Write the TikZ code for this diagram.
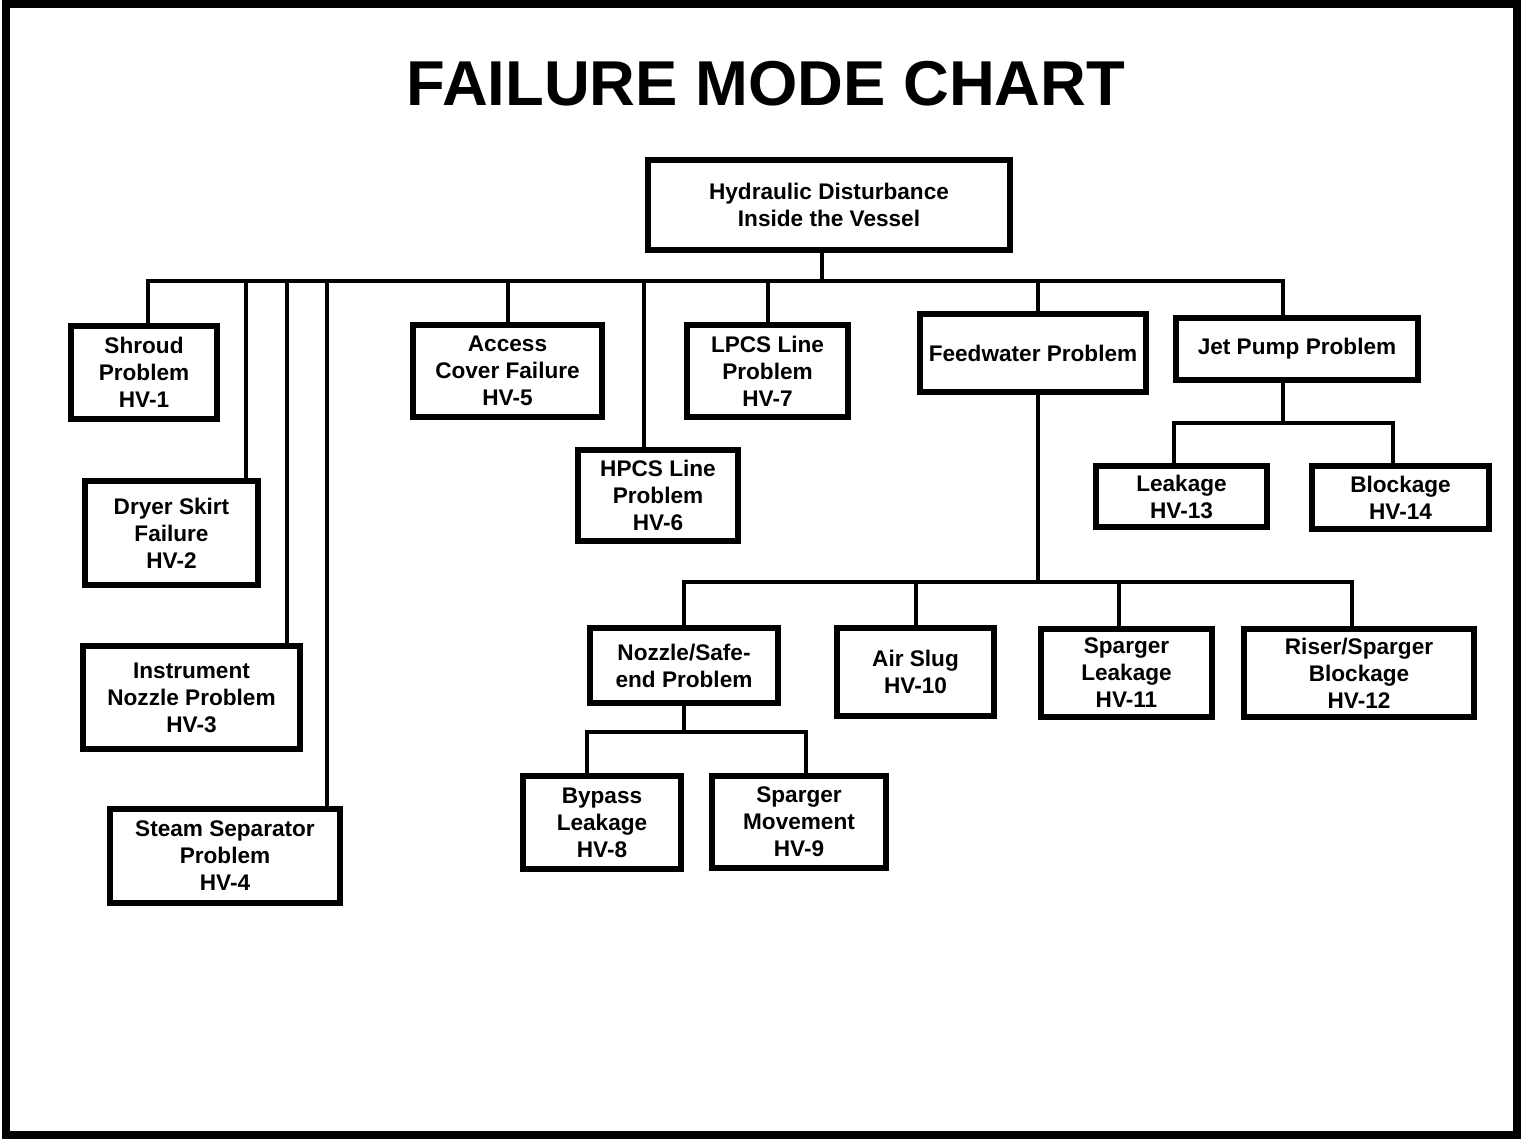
\documentclass[tikz,border=0pt]{standalone}
\usepackage{fontspec}
\setmainfont{Liberation Sans}
\begin{document}
\begin{tikzpicture}[x=0.5pt,y=-0.5pt,
  box/.style={draw, line width=3.2pt, align=center, inner sep=0pt,
    font={\fontsize{11.3}{13.5}\selectfont\bfseries}},
  conn/.style={line width=2pt},
  frame/.style={line width=4pt}]
\useasboundingbox (0,0) rectangle (1525,1142);
\draw[frame] (6,4) rectangle (1517,1135);
\node[font={\fontsize{31.7}{36}\selectfont\bfseries}] (title) at (766,84) {FAILURE MODE CHART};
% boxes
\node[box, minimum width=180.8pt, minimum height=44.8pt] (root) at (829,205) {Hydraulic Disturbance\\Inside the Vessel};
\node[box, minimum width=72.8pt, minimum height=46.3pt] (shroud) at (144,372.5) {Shroud\\Problem\\HV-1};
\node[box, minimum width=86.3pt, minimum height=51.8pt] (dryer) at (171.5,533) {Dryer Skirt\\Failure\\HV-2};
\node[box, minimum width=108.3pt, minimum height=51.3pt] (instr) at (191.5,697.5) {Instrument\\Nozzle Problem\\HV-3};
\node[box, minimum width=114.8pt, minimum height=46.8pt] (steam) at (225,856) {Steam Separator\\Problem\\HV-4};
\node[box, minimum width=94.3pt, minimum height=45.8pt] (access) at (507.5,371) {Access\\Cover Failure\\HV-5};
\node[box, minimum width=79.8pt, minimum height=45.3pt] (hpcs) at (658,495.5) {HPCS Line\\Problem\\HV-6};
\node[box, minimum width=80.3pt, minimum height=45.8pt] (lpcs) at (767.5,371) {LPCS Line\\Problem\\HV-7};
\node[box, minimum width=112.8pt, minimum height=38.8pt] (feed) at (1033,353) {Feedwater Problem};
\node[box, minimum width=120.8pt, minimum height=30.8pt] (jet) at (1297,349) {Jet Pump Problem};
\node[box, minimum width=85.3pt, minimum height=30.3pt] (leak) at (1181.5,496.5) {Leakage\\HV-13};
\node[box, minimum width=88.3pt, minimum height=31.3pt] (block) at (1400.5,497.5) {Blockage\\HV-14};
\node[box, minimum width=93.8pt, minimum height=37.3pt] (nozzle) at (684,665.5) {Nozzle/Safe-\\end Problem};
\node[box, minimum width=78.3pt, minimum height=43.8pt] (air) at (915.5,672) {Air Slug\\HV-10};
\node[box, minimum width=85.3pt, minimum height=43.8pt] (sleak) at (1126.5,673) {Sparger\\Leakage\\HV-11};
\node[box, minimum width=114.8pt, minimum height=43.8pt] (riser) at (1359,673) {Riser/Sparger\\Blockage\\HV-12};
\node[box, minimum width=78.8pt, minimum height=46.3pt] (bypass) at (602,822.5) {Bypass\\Leakage\\HV-8};
\node[box, minimum width=86.8pt, minimum height=45.8pt] (move) at (799,822) {Sparger\\Movement\\HV-9};
% connector attachment points
\coordinate (rootB) at ([xshift=-3.5pt]root.south);
\coordinate (shroudT) at ([xshift=2pt]shroud.north);
\coordinate (dryerT) at ([xshift=37.25pt]dryer.north);
\coordinate (instrT) at ([xshift=47.75pt]instr.north);
\coordinate (steamT) at ([xshift=51pt]steam.north);
\coordinate (accessT) at (access.north);
\coordinate (hpcsT) at ([xshift=-7pt]hpcs.north);
\coordinate (lpcsT) at (lpcs.north);
\coordinate (feedT) at ([xshift=2.5pt]feed.north);
\coordinate (feedB) at ([xshift=2.5pt]feed.south);
\coordinate (jetT) at ([xshift=-7pt]jet.north);
\coordinate (jetB) at ([xshift=-7pt]jet.south);
\coordinate (leakT) at ([xshift=-4pt]leak.north);
\coordinate (blockT) at ([xshift=-4pt]block.north);
\coordinate (nozzleT) at (nozzle.north);
\coordinate (nozzleB) at (nozzle.south);
\coordinate (airT) at (air.north);
\coordinate (sleakT) at ([xshift=-4pt]sleak.north);
\coordinate (riserT) at ([xshift=-3.5pt]riser.north);
\coordinate (bypassT) at ([xshift=-7.5pt]bypass.north);
\coordinate (moveT) at ([xshift=3.5pt]move.north);
% bus levels
\coordinate (busTop) at (822,281);
\coordinate (busJet) at (1283,423);
\coordinate (busFeed) at (1038,582);
\coordinate (busNoz) at (683,732);
% top level
\draw[conn] (rootB) -- (rootB |- busTop);
\draw[conn] (shroudT) -- (shroudT |- busTop) -- (jetT |- busTop) -- (jetT);
\foreach \c in {dryerT,instrT,steamT,accessT,hpcsT,lpcsT,feedT}
  \draw[conn] (\c) -- (\c |- busTop);
% jet pump
\draw[conn] (jetB) -- (jetB |- busJet);
\draw[conn] (leakT) -- (leakT |- busJet) -- (blockT |- busJet) -- (blockT);
% feedwater
\draw[conn] (feedB) -- (feedB |- busFeed);
\draw[conn] (nozzleT) -- (nozzleT |- busFeed) -- (riserT |- busFeed) -- (riserT);
\foreach \c in {airT,sleakT}
  \draw[conn] (\c) -- (\c |- busFeed);
% nozzle
\draw[conn] (nozzleB) -- (nozzleB |- busNoz);
\draw[conn] (bypassT) -- (bypassT |- busNoz) -- (moveT |- busNoz) -- (moveT);
\end{tikzpicture}
\end{document}
